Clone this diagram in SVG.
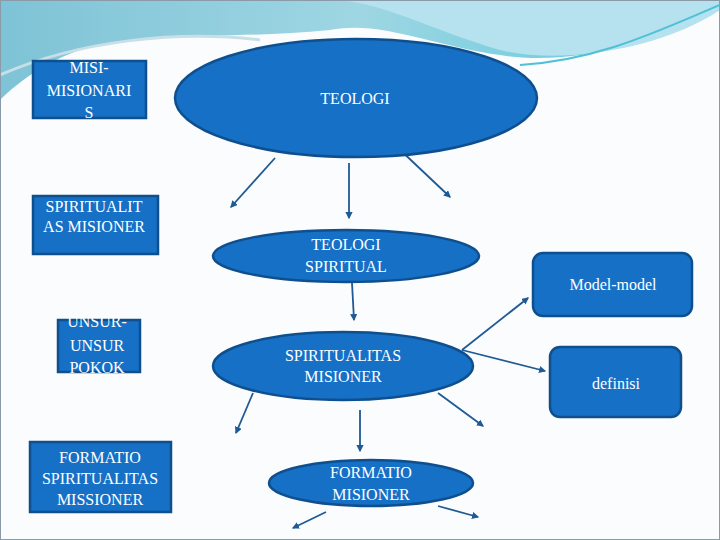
<svg xmlns="http://www.w3.org/2000/svg" width="720" height="540" viewBox="0 0 720 540">
<defs>
<linearGradient id="wv" x1="0" y1="0" x2="1" y2="0"><stop offset="0" stop-color="#7ec3d6"/><stop offset="0.5" stop-color="#9fd6e3"/><stop offset="1" stop-color="#55c8dc"/></linearGradient>
<marker id="ah" viewBox="0 0 6 6" refX="5" refY="3" markerWidth="4" markerHeight="4" orient="auto"><path d="M0,0L6,3L0,6z" fill="#1f5a95"/></marker>
<style>
.n{fill:#1570c6;stroke:#0f4f8e;stroke-width:2.5}
.t{font-family:"Liberation Serif",serif;font-size:16px;fill:#fff;text-anchor:middle}
.c line{stroke:#1f5a95;stroke-width:1.8;marker-end:url(#ah)}
</style>
</defs>
<rect width="720" height="540" fill="#fbfcfd"/>
<path d="M0,0H720V10C640,50 560,65 500,55C430,45 380,20 330,30C230,40 150,30 80,50C50,60 20,80 0,100Z" fill="url(#wv)"/>
<path d="M330,0H720V10C660,50 560,65 500,50C430,30 380,0 330,0Z" fill="#b5e2ee"/>
<path d="M0,75C80,40 180,30 260,40" stroke="#c9dfe8" stroke-width="3" fill="none"/>
<path d="M520,65C600,60 660,30 720,5" stroke="#4fc0d6" stroke-width="2" fill="none"/>
<rect x="0.5" y="0.5" width="719" height="539" fill="none" stroke="#8a9aa8"/>
<g class="c">
<line x1="275" y1="158" x2="231" y2="207"/>
<line x1="349" y1="163" x2="349" y2="218"/>
<line x1="396" y1="146" x2="450" y2="197"/>
<line x1="352" y1="283" x2="354" y2="320"/>
<line x1="462" y1="350" x2="528" y2="298"/>
<line x1="462" y1="350" x2="545" y2="371"/>
<line x1="253" y1="393" x2="236" y2="433"/>
<line x1="360" y1="410" x2="360" y2="451"/>
<line x1="438" y1="393" x2="483" y2="426"/>
<line x1="326" y1="512" x2="293" y2="528"/>
<line x1="438" y1="506" x2="478" y2="517"/>
</g>
<g id="misi"><rect class="n" x="33" y="61" width="113" height="57"/><text class="t" x="89" y="73">MISI-</text><text class="t" x="89" y="96">MISIONARI</text><text class="t" x="89" y="118">S</text></g>
<g id="teologi"><ellipse class="n" cx="356" cy="98" rx="181" ry="59"/><text class="t" x="355" y="104">TEOLOGI</text></g>
<g id="spirbox"><rect class="n" x="33" y="196" width="125" height="58"/><text class="t" x="94" y="212">SPIRITUALIT</text><text class="t" x="94" y="232">AS MISIONER</text></g>
<g id="teospir"><ellipse class="n" cx="346" cy="256" rx="133" ry="26"/><text class="t" x="346" y="250">TEOLOGI</text><text class="t" x="346" y="272">SPIRITUAL</text></g>
<g id="model"><rect class="n" x="533" y="253" width="159" height="63" rx="10"/><text class="t" x="613" y="290">Model-model</text></g>
<g id="unsur"><rect class="n" x="58" y="320" width="82" height="52"/><text class="t" x="97" y="327">UNSUR-</text><text class="t" x="97" y="351">UNSUR</text><text class="t" x="97" y="373">POKOK</text></g>
<g id="spirmis"><ellipse class="n" cx="343" cy="366" rx="130" ry="34"/><text class="t" x="343" y="361">SPIRITUALITAS</text><text class="t" x="343" y="382">MISIONER</text></g>
<g id="definisi"><rect class="n" x="550" y="347" width="131" height="70" rx="10"/><text class="t" x="616" y="389">definisi</text></g>
<g id="formbox"><rect class="n" x="30" y="442" width="141" height="70"/><text class="t" x="100" y="463">FORMATIO</text><text class="t" x="100" y="484">SPIRITUALITAS</text><text class="t" x="100" y="505">MISSIONER</text></g>
<g id="formmis"><ellipse class="n" cx="371" cy="483" rx="102" ry="23"/><text class="t" x="371" y="478">FORMATIO</text><text class="t" x="371" y="500">MISIONER</text></g>
</svg>
